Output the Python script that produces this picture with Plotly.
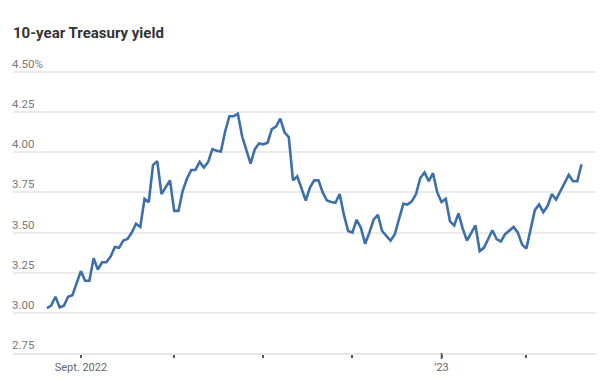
import pandas as pd
import plotly.graph_objects as go

# ---- data ----
start_date = "2022-08-22"
holidays = ["2022-11-24", "2022-12-26", "2023-01-02", "2023-01-16"]
yields = [
    3.03, 3.045, 3.10, 3.035, 3.045, 3.10, 3.11, 3.19, 3.26, 3.20,
    3.20, 3.34, 3.27, 3.315, 3.315, 3.35, 3.41, 3.405, 3.45, 3.46,
    3.50, 3.555, 3.535, 3.71, 3.69, 3.92, 3.945, 3.74, 3.785, 3.825,
    3.635, 3.635, 3.76, 3.835, 3.89, 3.89, 3.94, 3.905, 3.94, 4.02,
    4.01, 4.005, 4.13, 4.225, 4.225, 4.24, 4.10, 4.02, 3.93, 4.02,
    4.055, 4.05, 4.06, 4.145, 4.16, 4.21, 4.125, 4.095, 3.825, 3.85,
    3.78, 3.70, 3.78, 3.825, 3.825, 3.75, 3.70, 3.69, 3.685, 3.74,
    3.61, 3.51, 3.50, 3.58, 3.53, 3.43, 3.50, 3.58, 3.61, 3.51,
    3.48, 3.45, 3.49, 3.58, 3.68, 3.675, 3.695, 3.74, 3.84, 3.875,
    3.82, 3.87, 3.75, 3.69, 3.71, 3.57, 3.545, 3.62, 3.525, 3.45,
    3.50, 3.545, 3.385, 3.405, 3.46, 3.515, 3.46, 3.445, 3.49, 3.51,
    3.535, 3.50, 3.425, 3.40, 3.53, 3.64, 3.675, 3.627, 3.665, 3.74,
    3.705, 3.76, 3.81, 3.86, 3.82, 3.82, 3.925,
]
y_ticks = [2.75, 3.00, 3.25, 3.50, 3.75, 4.00, 4.25, 4.50]
y_labels = ["2.75", "3.00", "3.25", "3.50", "3.75", "4.00", "4.25", "4.50%"]
month_labels = {"2022-09": "Sept. 2022", "2023-01": "\u201923"}
x_range = ["2022-08-10", "2023-02-23 10:00"]
y_range = [2.75, 4.60]

dates = pd.bdate_range(start_date, periods=len(yields), freq="C", holidays=holidays)
s = pd.Series(yields, index=dates)

# first trading day of each month (from Sept on) -> tick positions
firsts = s.groupby(s.index.to_period("M")).head(1).index
firsts = [d for d in firsts if d >= pd.Timestamp("2022-09-01")]
tick_vals = [d.strftime("%Y-%m-%d") for d in firsts]
tick_text = [month_labels.get(d.strftime("%Y-%m"), "") for d in firsts]
year_tick = [d.strftime("%Y-%m-%d") for d in firsts if d.month == 1][0]

fig = go.Figure()
fig.add_trace(go.Scatter(
    x=dates, y=yields, mode="lines",
    line=dict(color="#3d6fa9", width=2.6, shape="linear"),
    hoverinfo="skip",
))

fig.update_layout(
    width=610, height=384,
    margin=dict(l=5, r=22, t=48.4, b=38.5, autoexpand=False),
    paper_bgcolor="white", plot_bgcolor="white",
    showlegend=False,
    font=dict(family="Roboto, Open Sans, sans-serif", color="#666666", size=12),
    title=dict(
        text="<b>10-year Treasury yield</b>",
        x=5 / 610, xref="container", xanchor="left",
        y=1 - 25 / 384, yref="container", yanchor="middle",
        font=dict(family="Roboto, sans-serif", size=15, color="#333333"),
    ),
    xaxis=dict(
        type="date",
        range=x_range,
        rangebreaks=[dict(bounds=["sat", "mon"]), dict(values=holidays)],
        tickmode="array", tickvals=tick_vals, ticktext=tick_text,
        ticks="outside", ticklen=3, tickwidth=1.5, tickcolor="#555555",
        showgrid=False, zeroline=False,
        showline=True, linecolor="#e6e6e6", linewidth=2,
        tickfont=dict(size=11, color="#666666"),
        automargin=False,
        fixedrange=True,
    ),
    yaxis=dict(
        range=y_range,
        tickmode="array", tickvals=y_ticks, ticktext=y_labels,
        ticks="", showgrid=True, gridcolor="#ebebeb", gridwidth=1.5,
        zeroline=False, showline=False,
        ticklabelposition="inside", ticklabelshift=-8, ticklabelstandoff=-4,
        tickfont=dict(size=11.5, color="#777777"),
        automargin=False,
        fixedrange=True,
    ),
    shapes=[dict(
        type="line", xref="x", yref="paper",
        x0=year_tick, x1=year_tick,
        ysizemode="pixel", yanchor=0, y0=0, y1=-6,
        line=dict(color="#555555", width=1.5),
    )],
)

fig.write_html("out.html")
